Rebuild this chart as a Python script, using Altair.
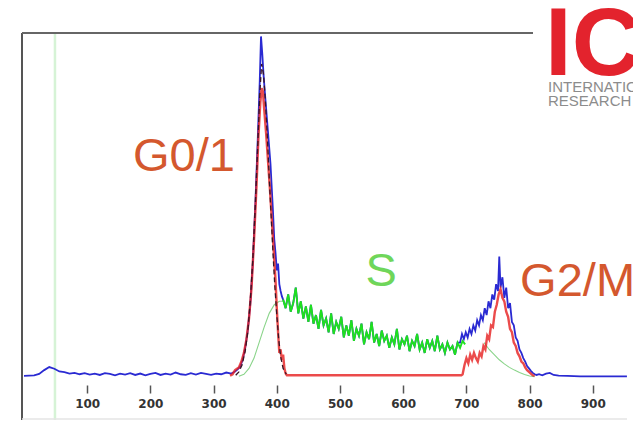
import altair as alt
import pandas as pd

# ---------------- data (channel, counts in % of panel height) ----------------
blue_base_ch = list(range(0, 329, 8))
blue_base_v = [0.3, 0.4, 0.5, 0.9, 2.0, 2.9, 2.4, 1.6, 1.4, 1.0, 1.2, 0.8, 1.1, 0.7,
               1.0, 0.6, 1.1, 0.9, 0.5, 1.0, 0.7, 1.1, 0.6, 1.0, 0.5, 0.9, 1.2, 0.6,
               1.0, 0.7, 1.3, 0.8, 0.6, 1.1, 0.7, 1.2, 0.9, 0.6, 1.0, 0.8, 1.3, 1.0]

blue_g1_ch = [334, 338, 342, 346, 350, 354, 358, 362, 366, 370, 373, 375, 377, 379,
              381, 384, 387, 390, 392, 394, 396, 398, 400, 402, 404, 406, 408]
blue_g1_v = [1.6, 2.2, 3.0, 5.0, 8.5, 13.5, 21, 33, 50, 70, 86, 99, 94, 88,
             83, 76, 69, 62, 55, 48, 40, 36, 31, 33, 27, 25, 23.5]

s_ch = list(range(410, 699, 4))
s_v = [22.5, 20, 24, 19, 21.5, 26, 18.5, 22, 17, 20.5, 16, 21, 15.5, 18, 14,
       19.5, 15, 17, 13, 18.5, 12.5, 16, 14, 17.5, 11.5, 15, 12, 16.5, 10.5, 14,
       12, 15.5, 9.5, 13, 11, 16, 10, 12.5, 9, 13.5, 10.5, 12, 8.5, 11.5, 9.5,
       14, 8, 11, 9.5, 12, 7.5, 10.5, 9, 12.5, 8, 10, 7, 11, 8.5, 10.5,
       7.5, 12, 8, 9.5, 7, 10, 8, 9, 6.5, 10, 8.5, 10.5, 9.5]

blue_g2_ch = [690, 693, 696, 699, 702, 705, 708, 711, 714, 717, 720, 723, 726, 729,
              732, 735, 738, 741, 744, 747, 750, 752, 754, 757, 760, 763, 766, 769,
              772, 775, 778, 781, 784, 787, 790, 793, 796, 799, 802, 805, 808, 811]
blue_g2_v = [10, 12.5, 11, 13, 11.5, 14, 12.5, 15, 13.5, 16.5, 15, 18, 16.5, 20,
             18, 22, 20, 24, 22.5, 27, 25, 35, 26, 29, 23, 26, 20, 21.5,
             16, 15, 11.5, 10.5, 8, 7, 5.5, 4.5, 3.2, 2.5, 1.8, 1.2, 0.8, 0.6]

blue_tail_ch = [815, 820, 826, 832, 838, 846, 860, 880, 900, 930, 954]
blue_tail_v = [0.8, 0.5, 1.0, 1.2, 0.6, 0.4, 0.3, 0.2, 0.2, 0.2, 0.2]

red_g1_ch = [326, 330, 334, 337, 340, 344, 348, 352, 356, 360, 364, 368, 371, 374,
             376, 378, 380, 383, 386, 389, 392, 395, 398, 400, 402, 404, 406, 408,
             410, 412, 414, 416]
red_g1_v = [0.4, 0.8, 2.0, 2.4, 2.8, 4.5, 7, 11, 17, 26, 40, 56, 70, 80,
            84, 83, 78, 71, 63, 55, 46, 37, 28, 20, 13, 7, 8, 5,
            6.5, 2.5, 1, 0.5]
red_flat_ch = [420, 692]
red_flat_v = [0.5, 0.5]
red_g2_ch = list(range(694, 809, 3))
red_g2_v = [0.8, 3.5, 5.5, 4, 6.5, 5, 7, 5.5, 4.5, 7, 6, 9, 8, 12, 11,
            15, 14.5, 19, 21, 24, 25.5, 23, 22, 19, 17.5, 14, 13, 10, 9, 7,
            6, 4.5, 4, 2.8, 2, 1.5, 1, 0.5, 0.3]

fit_ch = [335, 340, 345, 350, 354, 358, 362, 366, 370, 373, 376, 379, 382, 385,
          388, 391, 394, 397, 400, 403, 406, 410, 415]
fit_v = [0.5, 1.5, 3.5, 7.5, 13, 22, 34, 50, 68, 82, 91, 88, 80, 70,
         58, 47, 36, 26, 18, 11, 6, 2.5, 0.8]

smodel1_ch = [340, 348, 356, 364, 372, 380, 388, 396, 404, 410]
smodel1_v = [0.2, 0.8, 2.5, 5.5, 10, 14.5, 18.5, 21, 22, 22]
smodel2_ch = [728, 736, 744, 752, 760, 768, 776, 784, 792, 800, 808]
smodel2_v = [10, 8, 6.5, 5, 3.8, 2.8, 2, 1.3, 0.7, 0.3, 0.1]

gate_ch = [49]
tick_values = [100, 200, 300, 400, 500, 600, 700, 800, 900]

phase_labels = ["G0/1", "S", "G2/M"]
label_ch = [253, 565, 785]
label_v = [64, 30.5, 27.6]

# ---------------- frames ----------------
blue_df = pd.DataFrame({
    "ch": blue_base_ch + blue_g1_ch + s_ch[:70] + blue_g2_ch + blue_tail_ch,
    "v": blue_base_v + blue_g1_v + s_v[:70] + blue_g2_v + blue_tail_v,
})
green_df = pd.DataFrame({"ch": s_ch, "v": s_v})
red_df = pd.DataFrame({
    "ch": red_g1_ch + red_flat_ch + red_g2_ch,
    "v": red_g1_v + red_flat_v + red_g2_v,
})
fit_df = pd.DataFrame({"ch": fit_ch, "v": fit_v})
smodel_df = pd.DataFrame({
    "ch": smodel1_ch + smodel2_ch,
    "v": smodel1_v + smodel2_v,
    "part": ["a"] * len(smodel1_ch) + ["b"] * len(smodel2_ch),
})
gate_df = pd.DataFrame({"ch": gate_ch})

W, H = 611, 387

xs = alt.Scale(domain=[-3.16, 963.6], nice=False, zero=False)
ys = alt.Scale(domain=[-12.5, 100], nice=False, zero=False)
x_enc = alt.X("ch:Q", scale=xs, axis=alt.Axis(
    values=tick_values, offset=-35, domain=False, grid=False,
    tickSize=8, tickWidth=1.5, tickColor="#555",
    labelFont="DejaVu Sans", labelFontWeight="bold", labelFontSize=12,
    labelColor="#333", labelPadding=5, title=None))
y_enc = alt.Y("v:Q", scale=ys, axis=None)

one = pd.DataFrame({"a": [0]})

frame_left = alt.Chart(one).mark_rule(color="#555", strokeWidth=2).encode(
    x=alt.value(0), y=alt.value(0), y2=alt.value(H))
frame_top = alt.Chart(one).mark_rule(color="#666", strokeWidth=2).encode(
    x=alt.value(0), x2=alt.value(511), y=alt.value(0))
frame_bottom = alt.Chart(one).mark_rule(color="#e4e4e4", strokeWidth=1.5).encode(
    x=alt.value(0), x2=alt.value(605), y=alt.value(H - 1))

gate = alt.Chart(gate_df).mark_rule(color="#d6f3d6", strokeWidth=2.5).encode(
    x=alt.X("ch:Q", scale=xs), y=alt.value(0), y2=alt.value(H))

blue = alt.Chart(blue_df).mark_line(color="#2a2ad2", strokeWidth=1.8).encode(x=x_enc, y=y_enc)
smodel = alt.Chart(smodel_df).mark_line(color="#8ad48a", strokeWidth=1.1).encode(
    x=x_enc, y=y_enc, detail="part:N")
red = alt.Chart(red_df).mark_line(color="#e61e1e", strokeWidth=2.4, opacity=0.8).encode(x=x_enc, y=y_enc)
green = alt.Chart(green_df).mark_line(color="#1fe01f", strokeWidth=1.9).encode(x=x_enc, y=y_enc)
fit = alt.Chart(fit_df).mark_line(color="#3a1424", strokeWidth=1.3, strokeDash=[5, 3]).encode(x=x_enc, y=y_enc)

lab_df = pd.DataFrame({"t": phase_labels, "ch": label_ch, "v": label_v,
                       "c": ["#d4582e", "#6fd65a", "#d4582e"]})
lab_c = alt.Chart(lab_df.iloc[:2]).mark_text(
    font="Liberation Sans", fontSize=47, baseline="middle", align="center").encode(
    x=alt.X("ch:Q", scale=xs), y=alt.Y("v:Q", scale=ys), text="t:N",
    color=alt.Color("c:N", scale=None))
lab_r = alt.Chart(lab_df.iloc[2:]).mark_text(
    font="Liberation Sans", fontSize=47, baseline="middle", align="left").encode(
    x=alt.X("ch:Q", scale=xs), y=alt.Y("v:Q", scale=ys), text="t:N",
    color=alt.Color("c:N", scale=None))

logo_bg = alt.Chart(one).mark_rect(color="white").encode(
    x=alt.value(515), x2=alt.value(W), y=alt.value(-25), y2=alt.value(80))
logo = alt.Chart(pd.DataFrame({"t": ["IC"]})).mark_text(
    font="Liberation Sans", fontWeight="bold", fontSize=96, color="#e3232d",
    align="left", baseline="alphabetic").encode(
    x=alt.value(523), y=alt.value(42), text="t:N")
logo2 = alt.Chart(pd.DataFrame({"t": ["INTERNATIONAL"]})).mark_text(
    font="Liberation Sans", fontSize=15, color="#8c8c8c",
    align="left", baseline="alphabetic").encode(
    x=alt.value(526), y=alt.value(59), text="t:N")
logo3 = alt.Chart(pd.DataFrame({"t": ["RESEARCH"]})).mark_text(
    font="Liberation Sans", fontSize=15, color="#8c8c8c",
    align="left", baseline="alphabetic").encode(
    x=alt.value(526), y=alt.value(73), text="t:N")

chart = alt.layer(
    gate, frame_left, frame_top, frame_bottom,
    blue, smodel, red, green, fit,
    lab_c, lab_r, logo_bg, logo, logo2, logo3,
).properties(
    width=W, height=H,
    padding={"left": 14, "top": 25, "right": 0, "bottom": 10},
    autosize=alt.AutoSizeParams(type="none"),
    background="white",
).configure_view(stroke=None)

chart.save("out.html", embed_options={"renderer": "svg", "actions": False})
